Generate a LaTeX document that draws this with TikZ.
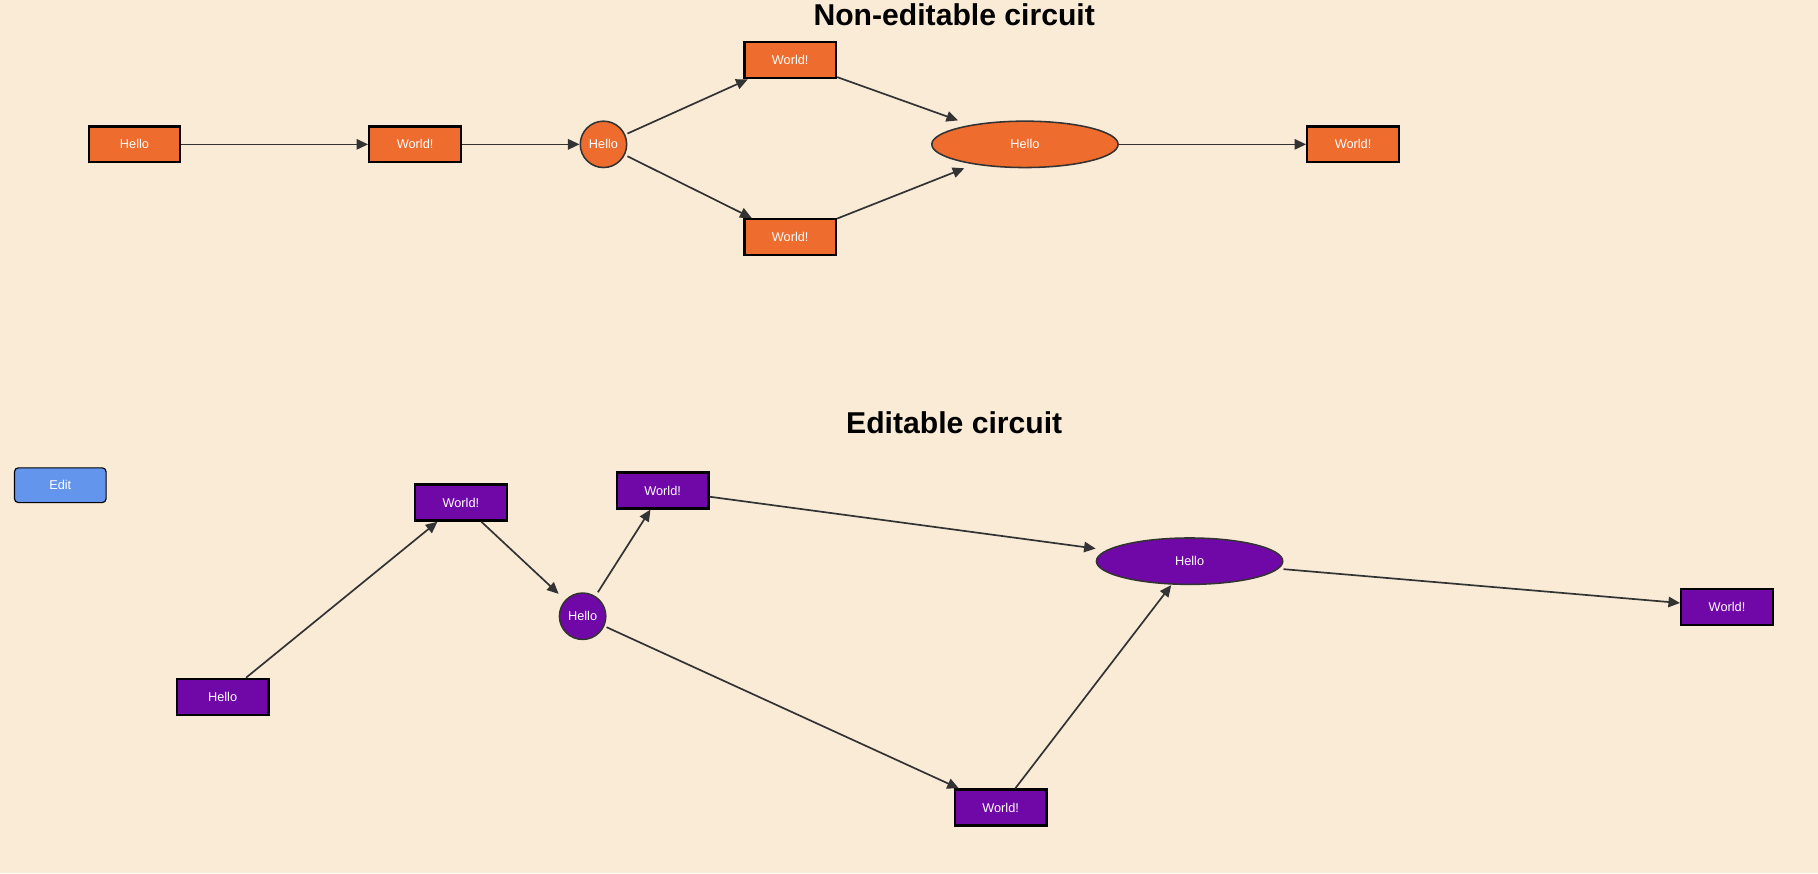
\documentclass[tikz,border=0pt]{standalone}
\usepackage{fontspec}
\setmainfont{Liberation Sans}
\usetikzlibrary{arrows.meta,shapes.geometric,fit}

\definecolor{bgcream}{RGB}{250,235,215}
\definecolor{gateorange}{RGB}{238,108,45}
\definecolor{gatepurple}{RGB}{112,8,168}
\definecolor{editblue}{RGB}{100,149,237}
\definecolor{wiregray}{RGB}{51,51,51}

\tikzset{
  gatebox/.style={draw=black, line width=1.5pt, minimum width=59.25pt, minimum height=23.25pt, inner sep=0pt, text=white, font=\fontsize{8.25}{10}\selectfont},
  gatecirc/.style={circle, draw=wiregray, line width=1pt, minimum size=30pt, inner sep=0pt, text=white, font=\fontsize{8.25}{10}\selectfont},
  gateell/.style={ellipse, draw=wiregray, line width=1pt, minimum width=120.5pt, minimum height=30pt, inner sep=0pt, text=white, font=\fontsize{8.25}{10}\selectfont},
  hull/.style={fit=#1, inner sep=0pt, outer sep=0pt},
  wire/.style={draw=wiregray, line width=1.1pt, -{Triangle[length=7.5pt,width=6.75pt]}},
  heading/.style={font=\fontsize{19.5}{22}\selectfont\bfseries, inner sep=0pt},
}

\begin{document}
\begin{tikzpicture}[x=0.75pt,y=0.75pt,yscale=-1,xscale=1]
    %background and size of the page
    \fill[bgcream] (0,0) rectangle (1568,753);

    % Titles
    \node[heading] (titleA) at (823,13) {Non-editable circuit};
    \node[heading] (titleB) at (823,365) {Editable circuit};

    % Edit button
    \node[draw=black, line width=0.75pt, rounded corners=2.5pt, fill=editblue, minimum width=59.25pt, minimum height=22.5pt, inner sep=0pt, text=white, font=\fontsize{8.25}{10}\selectfont] (edit) at (52,418.5) {Edit};

    % Non-editable circuit nodes
    \node[gatebox, fill=gateorange] (a1) at (116,124.5) {Hello};
    \node[gatebox, fill=gateorange] (a2) at (358,124.5) {World!};
    \node[gatecirc, fill=gateorange] (a3) at (520.5,124.5) {Hello};
    \node[gatebox, fill=gateorange] (a4) at (681.5,52) {World!};
    \node[gatebox, fill=gateorange] (a5) at (681.5,204.5) {World!};
    \node[gateell, fill=gateorange] (a6) at (884,124.5) {Hello};
    \node[gatebox, fill=gateorange] (a7) at (1167,124.5) {World!};
    % wires meet the round gates at their bounding boxes
    \node[hull=(a3)] (a3r) {};
    \node[hull=(a6)] (a6r) {};

    % Non-editable circuit wires
    \draw[wire] (a1) -- (a2);
    \draw[wire] (a2) -- (a3r);
    \draw[wire] (a3r) -- (a4);
    \draw[wire] (a3r) -- (a5);
    \draw[wire] (a4) -- (a6r);
    \draw[wire] (a5) -- (a6r);
    \draw[wire] (a6r) -- (a7);

    % Editable circuit nodes
    \node[gatebox, fill=gatepurple] (b1) at (192,601) {Hello};
    \node[gatebox, fill=gatepurple] (b2) at (397.5,433.5) {World!};
    \node[gatecirc, fill=gatepurple] (b3) at (502.5,531.5) {Hello};
    \node[gatebox, fill=gatepurple] (b4) at (571.5,423) {World!};
    \node[gatebox, fill=gatepurple] (b5) at (863,696.5) {World!};
    \node[gateell, fill=gatepurple] (b6) at (1026,484) {Hello};
    \node[gatebox, fill=gatepurple] (b7) at (1489.5,523.5) {World!};
    \node[hull=(b3)] (b3r) {};
    \node[hull=(b6)] (b6r) {};

    % Editable circuit wires
    \draw[wire] (b1) -- (b2);
    \draw[wire] (b2) -- (b3r);
    \draw[wire] (b3r) -- (b4);
    \draw[wire] (b3r) -- (b5);
    \draw[wire] (b4) -- (b6r);
    \draw[wire] (b5) -- (b6r);
    \draw[wire] (b6r) -- (b7);
\end{tikzpicture}
\end{document}
